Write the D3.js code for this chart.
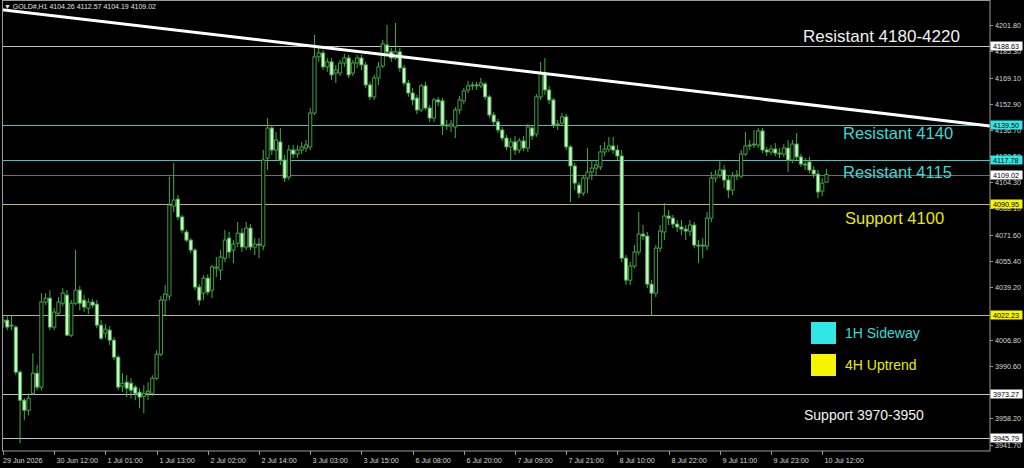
<!DOCTYPE html>
<html><head><meta charset="utf-8">
<script src="https://cdn.jsdelivr.net/npm/d3@7/dist/d3.min.js"></script>
<style>html,body{margin:0;padding:0;background:#000;overflow:hidden}</style>
</head><body><svg id="c" width="1024" height="468"></svg>
<script>
// ---- DATA (GOLD#, H1) ----
const symbolInfo = "GOLD#,H1  4104.26 4112.57 4104.19 4109.02";
const opens = [4017.6,4018.8,4015.1,4014.5,3986.6,3969.2,3963.0,3973.5,3985.9,3977.3,
4030.0,4032.4,4014.5,4023.1,4029.3,4034.3,4009.5,4029.3,4037.4,4031.2,
4026.2,4030.0,4028.7,4015.7,4010.7,4012.6,4006.4,3995.9,3977.9,3980.4,
3979.7,3977.3,3974.2,3971.7,3973.5,3973.5,3982.8,3997.7,4031.2,4033.7,
4089.5,4093.8,4082.7,4073.4,4068.4,4062.2,4039.3,4035.5,4044.8,4037.4,
4051.0,4049.8,4057.2,4069.6,4062.2,4066.5,4072.7,4064.1,4075.8,4064.1,
4065.9,4064.7,4119.2,4137.8,4124.2,4129.2,4118.0,4107.5,4124.2,4121.7,
4124.2,4125.4,4126.1,4147.1,4181.9,4184.3,4175.7,4178.8,4171.9,4171.9,
4178.1,4181.2,4171.9,4178.1,4181.2,4176.9,4164.5,4157.1,4168.8,4176.3,
4189.3,4185.0,4181.2,4185.0,4175.0,4165.7,4159.5,4156.4,4149.0,4163.9,
4150.2,4144.0,4155.2,4154.6,4139.7,4139.1,4138.5,4149.0,4154.6,4161.4,
4163.9,4164.5,4163.9,4165.1,4157.1,4145.9,4141.6,4136.6,4131.6,4126.1,
4129.2,4124.2,4129.8,4125.4,4137.8,4134.1,4157.1,4171.3,4161.4,4155.2,
4139.7,4140.9,4144.7,4126.1,4114.3,4102.5,4097.5,4106.8,4110.6,4113.0,
4113.7,4123.0,4124.8,4126.7,4124.2,4120.5,4057.2,4043.6,4052.3,4061.0,
4072.1,4070.9,4041.1,4035.5,4063.4,4073.4,4083.3,4082.0,4078.3,4076.5,
4075.2,4074.0,4077.7,4065.3,4064.7,4064.7,4082.0,4106.8,4108.7,4111.8,
4105.6,4099.4,4108.1,4108.1,4121.7,4126.7,4127.3,4127.3,4136.0,4124.2,
4123.0,4124.8,4122.3,4121.7,4125.4,4118.0,4127.9,4119.9,4115.5,4116.8,
4111.8,4109.3,4098.8,4104.26];
const highs = [4021.3,4021.9,4021.9,4015.7,3987.8,3970.4,3973.5,3998.3,3990.9,4035.5,
4035.5,4037.4,4026.2,4033.1,4038.6,4037.4,4031.2,4062.2,4039.9,4034.3,
4032.4,4031.8,4031.2,4018.8,4016.3,4015.1,4008.3,3997.1,3985.9,3984.7,
3982.8,3978.5,3976.6,3978.5,3980.4,3984.7,4000.2,4033.7,4040.5,4107.5,
4116.1,4096.3,4083.9,4074.6,4069.6,4063.4,4041.1,4046.7,4047.3,4052.9,
4057.9,4062.2,4074.6,4073.4,4068.4,4079.6,4075.8,4079.6,4078.3,4069.6,
4069.6,4124.2,4144.0,4139.7,4135.4,4137.8,4121.1,4127.3,4127.3,4127.3,
4129.2,4130.4,4150.2,4195.5,4187.4,4186.2,4181.2,4181.2,4176.9,4180.0,
4183.7,4183.1,4180.0,4183.1,4183.1,4178.8,4166.4,4170.7,4178.8,4192.4,
4201.7,4187.4,4202.9,4187.4,4176.9,4167.6,4162.6,4158.3,4165.1,4166.4,
4152.1,4156.4,4157.1,4156.4,4142.8,4142.8,4150.9,4157.7,4162.6,4167.0,
4166.4,4166.4,4168.8,4166.4,4158.3,4147.8,4143.4,4138.5,4133.5,4131.6,
4132.9,4131.6,4132.9,4140.3,4139.7,4158.9,4178.8,4181.2,4163.9,4156.4,
4142.8,4147.1,4146.5,4127.3,4116.1,4104.4,4108.7,4125.4,4118.0,4118.0,
4127.3,4129.2,4132.3,4132.3,4127.3,4124.2,4059.1,4054.8,4065.3,4085.8,
4077.7,4073.4,4043.6,4065.3,4077.7,4091.3,4087.0,4083.9,4080.8,4080.8,
4077.7,4080.8,4079.6,4068.4,4069.6,4085.8,4110.6,4111.8,4118.0,4114.9,
4108.1,4110.6,4111.8,4124.2,4135.4,4130.4,4136.6,4137.8,4137.8,4126.1,
4127.3,4128.5,4125.4,4127.9,4130.4,4130.4,4134.7,4121.7,4119.2,4119.9,
4114.3,4111.8,4106.8,4112.57];
const lows = [4013.8,4012.6,4012.6,3984.7,3942.5,3956.8,3959.9,3972.3,3975.4,3975.4,
4028.1,4012.6,4012.6,4021.3,4027.5,4008.9,4008.3,4028.1,4025.0,4023.8,
4022.5,4026.2,4013.8,4006.4,4007.6,4003.3,3994.0,3975.4,3974.2,3971.1,
3970.4,3969.2,3964.2,3961.1,3969.2,3971.7,3981.6,3996.5,4021.9,4031.2,
4085.8,4080.8,4072.7,4067.2,4060.3,4037.4,4028.1,4031.2,4034.3,4032.4,
4045.5,4043.6,4054.8,4057.2,4054.1,4064.1,4061.0,4062.2,4062.2,4059.1,
4057.2,4062.2,4111.8,4121.1,4118.0,4114.9,4104.4,4105.6,4119.2,4119.2,
4121.7,4123.0,4124.2,4145.9,4178.8,4173.8,4172.6,4167.6,4165.7,4170.1,
4175.7,4168.8,4170.1,4175.0,4173.8,4162.6,4155.2,4155.2,4164.5,4175.0,
4183.1,4178.8,4180.0,4172.6,4163.9,4157.1,4152.1,4146.5,4147.8,4149.0,
4141.6,4141.6,4151.5,4133.5,4136.6,4135.4,4131.6,4146.5,4152.7,4159.5,
4161.4,4161.4,4162.6,4155.2,4144.0,4139.7,4134.7,4129.8,4124.2,4118.0,
4121.1,4122.3,4123.6,4123.0,4130.4,4132.3,4155.2,4158.3,4152.7,4137.8,
4136.6,4139.1,4124.2,4092.0,4099.4,4094.4,4095.7,4097.5,4105.6,4108.7,
4111.8,4120.5,4123.0,4121.7,4118.0,4054.8,4040.5,4040.5,4051.0,4059.1,
4068.4,4038.6,4021.9,4033.1,4061.0,4068.4,4077.7,4075.8,4073.4,4071.5,
4068.4,4070.9,4063.4,4054.1,4057.2,4062.2,4079.6,4104.4,4106.8,4100.6,
4094.4,4096.3,4105.6,4106.8,4120.5,4124.2,4125.4,4125.4,4122.3,4120.5,
4121.1,4120.5,4119.2,4119.9,4110.6,4116.1,4118.0,4113.7,4111.8,4109.9,
4106.8,4094.4,4095.7,4104.19];
const closes = [4018.8,4014.5,4015.7,3986.6,3969.2,3963.0,3970.4,3985.9,3977.3,4030.0,
4032.4,4014.5,4023.8,4030.0,4035.5,4009.5,4029.3,4037.4,4029.3,4026.9,
4030.0,4028.1,4015.7,4007.6,4013.2,4006.4,3995.9,3977.3,3979.7,3976.6,
3975.4,3973.5,3971.1,3973.5,3974.8,3982.8,3997.7,4031.2,4034.9,4090.1,
4093.2,4082.7,4074.6,4068.4,4062.2,4039.3,4031.2,4044.8,4036.2,4051.7,
4051.7,4057.9,4068.4,4061.0,4065.9,4072.7,4064.1,4075.8,4064.1,4065.9,
4065.3,4118.0,4137.8,4124.2,4130.4,4118.0,4106.8,4124.2,4121.7,4124.2,
4126.1,4127.3,4147.1,4181.9,4184.3,4175.7,4178.8,4170.7,4173.8,4178.1,
4181.2,4170.7,4178.1,4181.2,4176.9,4164.5,4157.1,4168.8,4175.7,4189.9,
4185.0,4181.2,4185.0,4175.0,4165.7,4159.5,4155.2,4149.0,4163.9,4150.2,
4144.0,4155.2,4154.0,4139.7,4139.1,4140.3,4149.0,4155.2,4160.8,4163.9,
4164.5,4163.9,4165.7,4157.1,4145.9,4141.6,4136.6,4131.6,4126.1,4129.2,
4124.2,4129.8,4125.4,4138.5,4132.9,4157.1,4171.3,4161.4,4155.2,4139.7,
4140.3,4144.7,4126.1,4114.3,4103.7,4097.5,4106.8,4110.6,4113.0,4114.9,
4123.0,4124.8,4126.7,4124.2,4120.5,4057.2,4043.6,4052.3,4061.0,4072.1,
4070.9,4041.1,4035.5,4063.4,4074.0,4083.3,4082.0,4078.3,4076.5,4075.2,
4074.0,4077.7,4065.3,4064.7,4065.3,4082.0,4106.8,4108.7,4111.8,4105.6,
4099.4,4108.1,4108.7,4121.7,4126.7,4127.3,4127.9,4136.0,4124.2,4123.0,
4124.8,4122.3,4121.7,4125.4,4118.0,4127.9,4119.9,4115.5,4114.9,4111.8,
4109.3,4098.2,4103.7,4109.02];
const timeLabels = ["29 Jun 2026","30 Jun 12:00","1 Jul 01:00","1 Jul 13:00","2 Jul 02:00",
"2 Jul 14:00","3 Jul 03:00","3 Jul 15:00","6 Jul 08:00","6 Jul 20:00","7 Jul 09:00",
"7 Jul 21:00","8 Jul 10:00","8 Jul 22:00","9 Jul 11:00","9 Jul 23:00","10 Jul 12:00"];
const labelEvery = 12; // bars between time labels
const priceTicks = [4201.80,4185.30,4169.10,4152.90,4136.70,4120.50,4104.30,4088.10,
4071.60,4055.40,4039.20,4006.80,3990.60,3958.20,3941.70];
const levelPrices = [4188.63,4139.50,4117.78,4109.02,4090.95,4022.23,3973.27,3945.79];
const levelKinds  = ["white","cyan","cyan","bid","yellow","yellow","white","white"];
// trend line: [bar index, price] at its two ends
const trendIdx = [-0.7, 231.3];
const trendPrice = [4211.3, 4139.1];
const notes = ["Resistant 4180-4220","Resistant 4140","Resistant 4115","Support 4100","Support 3970-3950"];
const noteKinds = ["white","cyan","cyan","yellow","white"];
const legendLabels = ["1H Sideway","4H Uptrend"];
const legendKinds = ["cyan","yellow"];

// ---- DRAW ----
const W=1024,H=468, plotR=990, plotB=451;
const svg=d3.select("#c");
svg.append("rect").attr("width",W).attr("height",H).attr("fill","#000");
const x=d3.scaleLinear().domain([0,193]).range([3,826.5]);
const y=d3.scaleLinear().domain([3945.79,4188.63]).range([438,46]);
const lineCol={white:"#c4c4c4",cyan:"#4fc0c0",bid:"#6e6e6e",yellow:"#bdb67a"};
const tagCol={white:"#ffffff",cyan:"#33e6e6",bid:"#ffffff",yellow:"#f5f500"};
const textCol={white:"#f2f2f2",cyan:"#38dada",yellow:"#e8e800"};
const FONT="Liberation Sans, Arial, sans-serif";

const defs=svg.append("defs");
defs.append("clipPath").attr("id","plot").append("rect").attr("x",2).attr("y",1).attr("width",plotR-2).attr("height",plotB-1);
const g=svg.append("g").attr("clip-path","url(#plot)");

// horizontal levels
g.selectAll("line.lv").data(levelPrices).join("line")
 .attr("x1",2).attr("x2",plotR).attr("y1",d=>Math.round(y(d))+0.5).attr("y2",d=>Math.round(y(d))+0.5)
 .attr("stroke",(d,i)=>lineCol[levelKinds[i]]).attr("stroke-width",1);

// candles
const idx=d3.range(opens.length);
const green="#46ad46";
g.selectAll("line.wick").data(idx).join("line")
 .attr("x1",i=>x(i)).attr("x2",i=>x(i)).attr("y1",i=>y(highs[i])).attr("y2",i=>y(lows[i]))
 .attr("stroke",green).attr("stroke-width",1);
g.selectAll("rect.body").data(idx).join("rect")
 .attr("x",i=>x(i)-1.6).attr("width",3.2)
 .attr("y",i=>y(Math.max(opens[i],closes[i])))
 .attr("height",i=>Math.max(0.6,Math.abs(y(opens[i])-y(closes[i]))))
 .attr("fill",i=>closes[i]>=opens[i]?"#000":"#c8f4c8")
 .attr("stroke",green).attr("stroke-width",0.9);

// trend line
g.append("line").attr("x1",x(trendIdx[0])).attr("y1",y(trendPrice[0]))
 .attr("x2",x(trendIdx[1])).attr("y2",y(trendPrice[1]))
 .attr("stroke","#ffffff").attr("stroke-width",3);

// frame
svg.append("rect").attr("x",2.5).attr("y",0.5).attr("width",plotR-2.5).attr("height",plotB-0.5)
 .attr("fill","none").attr("stroke","#9a9a9a").attr("stroke-width",1);

// price axis ticks
const yAxis=svg.append("g").attr("font-family",FONT).attr("font-size",7.2).attr("fill","#d8d8d8");
priceTicks.forEach(p=>{
  const yy=Math.round(y(p))+0.5;
  yAxis.append("line").attr("x1",plotR).attr("x2",plotR+3).attr("y1",yy).attr("y2",yy).attr("stroke","#9a9a9a");
  yAxis.append("text").attr("x",995).attr("y",yy+2.5).text(p.toFixed(2));
});
// price tags
levelPrices.forEach((p,i)=>{
  const yy=Math.round(y(p));
  svg.append("rect").attr("x",plotR+0.5).attr("y",yy-4.5).attr("width",32).attr("height",9).attr("fill",tagCol[levelKinds[i]]);
  svg.append("text").attr("x",993).attr("y",yy+2.6).attr("font-family",FONT)
   .attr("font-size",7.2).attr("fill","#000").text(p.toFixed(2));
});

// time axis
const tAxis=svg.append("g").attr("font-family",FONT).attr("font-size",7.2).attr("fill","#d8d8d8");
timeLabels.forEach((t,k)=>{
  const xx=Math.round(x(k*labelEvery))+0.5;
  tAxis.append("line").attr("x1",xx).attr("x2",xx).attr("y1",plotB).attr("y2",plotB+4).attr("stroke","#9a9a9a");
  tAxis.append("text").attr("x",k===0?3:xx+2).attr("y",463).text(t);
});

// header
svg.append("text").attr("x",4).attr("y",9).attr("font-family",FONT)
 .attr("font-size",7).attr("fill","#e0e0e0").text("\u25BC "+symbolInfo);

// notes
const noteX=[803,843,843,845,804];
const noteY=[42,139,178,224,420];
const noteSize=[17,16.5,16.5,16.5,14];
notes.forEach((t,i)=>{
  svg.append("text").attr("x",noteX[i]).attr("y",noteY[i]).attr("font-family",FONT)
   .attr("font-size",noteSize[i]).attr("fill",textCol[noteKinds[i]]).text(t);
});
// legend
const legY=[322,354];
legendLabels.forEach((t,i)=>{
  svg.append("rect").attr("x",811).attr("y",legY[i]).attr("width",25).attr("height",22)
   .attr("fill",tagCol[legendKinds[i]]);
  svg.append("text").attr("x",845).attr("y",legY[i]+16).attr("font-family",FONT)
   .attr("font-size",14).attr("fill",textCol[legendKinds[i]]).text(t);
});
</script></body></html>
